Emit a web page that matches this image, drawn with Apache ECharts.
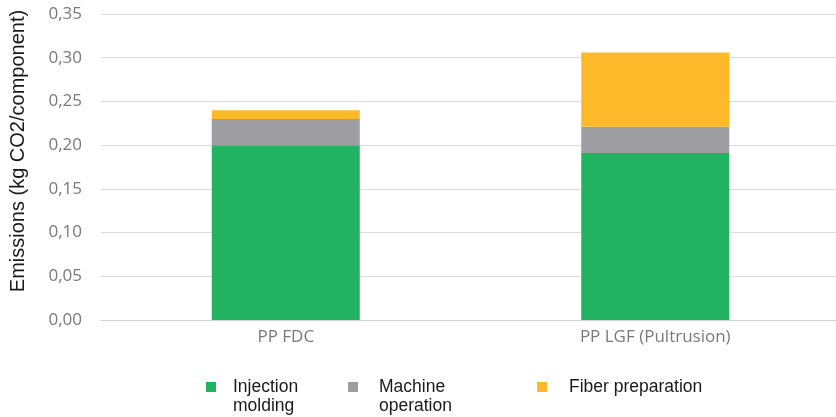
<!DOCTYPE html>
<html>
<head>
<meta charset="utf-8">
<script src="https://cdn.jsdelivr.net/npm/echarts@6/dist/echarts.min.js"></script>
<style>
  html, body { margin: 0; padding: 0; background: #fff; }
  #chart { width: 836px; height: 417px; }
</style>
</head>
<body>
<div id="chart"></div>
<script>
// Emissions per component, stacked by process step
const categories = ['PP FDC', 'PP LGF (Pultrusion)'];
const injectionMolding = [0.200, 0.191];
const machineOperation = [0.030, 0.030];
const fiberPreparation = [0.010, 0.085];
const seriesNames = ['Injection\nmolding', 'Machine\noperation', 'Fiber preparation'];
const colors = ['#22B362', '#9D9DA2', '#FDB92A'];
const yTicks = { min: 0, max: 0.35, interval: 0.05 };

const chart = echarts.init(document.getElementById('chart'), null, { renderer: 'canvas' });

const labelFont = '"Open Sans", "Liberation Sans", sans-serif';
const textFont = '"Liberation Sans", Arial, sans-serif';

// One legend per entry so each can sit at its own x; two-line names get a
// leading blank line so the marker lines up with the first text line.
function legendAt(name, left, top, padLeft, twoLine) {
  return {
    data: [name],
    left: left,
    top: top,
    padding: 0,
    orient: 'horizontal',
    itemWidth: 10,
    itemHeight: 10,
    icon: 'rect',
    selectedMode: false,
    formatter: n => (twoLine ? '\n' + n : n),
    textStyle: {
      fontFamily: textFont,
      fontSize: 17.5,
      color: '#1a1a1a',
      lineHeight: 19,
      padding: [0, 0, 0, padLeft]
    }
  };
}

const option = {
  animation: false,
  backgroundColor: '#ffffff',
  // plot area runs slightly past the right edge of the canvas
  grid: { left: 101, width: 739, top: 14, bottom: 97, containLabel: false, outerBoundsMode: 'none' },
  legend: [
    legendAt(seriesNames[0], 206, 358.5, 12, true),
    legendAt(seriesNames[1], 348, 358.5, 16, true),
    legendAt(seriesNames[2], 537, 377.5, 17, false)
  ],
  xAxis: {
    type: 'category',
    data: categories,
    axisLine: { show: true, lineStyle: { color: '#d4d4d4', width: 1 } },
    axisTick: { show: false },
    axisLabel: { color: '#7a7a7a', fontFamily: labelFont, fontSize: 17, margin: 9 }
  },
  yAxis: {
    type: 'value',
    min: yTicks.min,
    max: yTicks.max,
    interval: yTicks.interval,
    name: 'Emissions (kg CO2/component)',
    nameLocation: 'middle',
    nameGap: 73,
    nameTextStyle: {
      fontFamily: textFont,
      fontSize: 20,
      color: '#1a1a1a',
      padding: [0, 0, 0, 32]
    },
    axisLine: { show: false },
    axisTick: { show: false },
    splitLine: { lineStyle: { color: '#dcdcdc', width: 1 } },
    axisLabel: {
      color: '#7a7a7a',
      fontFamily: labelFont,
      fontSize: 17,
      margin: 19,
      formatter: v => v.toFixed(2).replace('.', ',')
    }
  },
  series: [
    { name: seriesNames[0], type: 'bar', stack: 'total', data: injectionMolding, barWidth: 148, itemStyle: { color: colors[0] } },
    { name: seriesNames[1], type: 'bar', stack: 'total', data: machineOperation, barWidth: 148, itemStyle: { color: colors[1] } },
    { name: seriesNames[2], type: 'bar', stack: 'total', data: fiberPreparation, barWidth: 148, itemStyle: { color: colors[2] } }
  ]
};

chart.setOption(option);
</script>
</body>
</html>
